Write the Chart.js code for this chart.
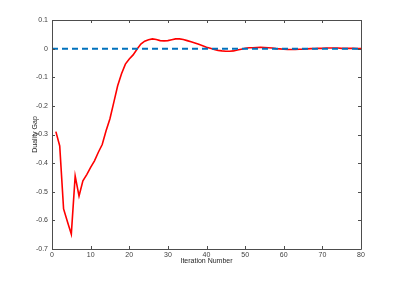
<!DOCTYPE html>
<html>
<head>
<meta charset="utf-8">
<script src="https://cdn.jsdelivr.net/npm/chart.js@4"></script>
<style>
  html, body { margin: 0; padding: 0; background: #fff; }
  canvas { display: block; }
</style>
</head>
<body>
<canvas id="gapChart" width="399" height="281"></canvas>
<script>
const iterations = [];
for (let i = 1; i <= 80; i++) iterations.push(i);

const dualityGap = [
  -0.29, -0.34, -0.56, -0.605, -0.648, -0.445, -0.515, -0.462, -0.44, -0.415,
  -0.392, -0.362, -0.335, -0.287, -0.245, -0.188, -0.13, -0.088, -0.054, -0.036,
  -0.022, -0.002, 0.016, 0.026, 0.031, 0.034, 0.032, 0.028, 0.027, 0.028,
  0.031, 0.034, 0.034, 0.032, 0.028, 0.024, 0.02, 0.015, 0.01, 0.005,
  0.001, -0.003, -0.006, -0.008, -0.009, -0.009, -0.008, -0.005, -0.002, 0.001,
  0.003, 0.003, 0.004, 0.005, 0.004, 0.003, 0.002, 0.0, -0.001, -0.002,
  -0.003, -0.003, -0.003, -0.002, -0.002, -0.001, 0.0, 0.0, 0.001, 0.001,
  0.002, 0.002, 0.002, 0.002, 0.001, 0.001, 0.001, 0.001, 0.0, 0.0
];

const zeroLineX = [0, 80];
const zeroLineY = [0, 0];

const xTicks = [0, 10, 20, 30, 40, 50, 60, 70, 80];
const yTicks = [0.1, 0, -0.1, -0.2, -0.3, -0.4, -0.5, -0.6, -0.7];

const axisColor = "#4d4d4d";

// matlab style box with ticks pointing inward
const boxTicks = {
    id: "boxTicks",
    afterDraw(chart) {
        const ctx = chart.ctx;
        const a = chart.chartArea;
        const xs = chart.scales.x;
        const ys = chart.scales.y;
        const len = 3;
        ctx.save();
        ctx.strokeStyle = axisColor;
        ctx.lineWidth = 1;
        ctx.beginPath();
        ctx.rect(Math.round(a.left) + 0.5, Math.round(a.top) + 0.5,
                 Math.round(a.right - a.left), Math.round(a.bottom - a.top));
        xTicks.forEach(function (t) {
            const px = Math.round(xs.getPixelForValue(t)) + 0.5;
            ctx.moveTo(px, a.bottom);
            ctx.lineTo(px, a.bottom - len);
            ctx.moveTo(px, a.top);
            ctx.lineTo(px, a.top + len);
        });
        yTicks.forEach(function (t) {
            const py = Math.round(ys.getPixelForValue(t)) + 0.5;
            ctx.moveTo(a.left, py);
            ctx.lineTo(a.left + len, py);
            ctx.moveTo(a.right, py);
            ctx.lineTo(a.right - len, py);
        });
        ctx.stroke();
        ctx.restore();
    }
};

const tickFont = { family: "Liberation Sans, Arial, sans-serif", size: 7 };

new Chart(document.getElementById("gapChart"), {
    type: "line",
    data: {
        datasets: [
            {
                data: zeroLineX.map(function (x, i) { return { x: x, y: zeroLineY[i] }; }),
                borderColor: "#0072bd",
                borderWidth: 2,
                borderDash: [6, 4],
                pointRadius: 0,
            },
            {
                data: iterations.map(function (x, i) { return { x: x, y: dualityGap[i] }; }),
                borderColor: "#ff0000",
                borderWidth: 1.6,
                pointRadius: 0,
                tension: 0,
            },
        ],
    },
    options: {
        responsive: false,
        animation: false,
        layout: { padding: { left: 0, top: 20, right: 38, bottom: 0 } },
        plugins: {
            legend: { display: false },
            tooltip: { enabled: false },
        },
        scales: {
            x: {
                type: "linear",
                min: 0,
                max: 80,
                afterBuildTicks: function (scale) {
                    scale.ticks = xTicks.map(function (v) { return { value: v }; });
                },
                afterFit: function (scale) { scale.height = 32; },
                grid: { display: false, drawTicks: false },
                border: { display: false },
                ticks: {
                    font: tickFont,
                    color: "#404040",
                    padding: 2,
                    maxRotation: 0,
                    callback: function (v) { return String(v); },
                },
                title: {
                    display: true,
                    text: "Iteration Number",
                    font: tickFont,
                    color: "#262626",
                    padding: { top: 0, bottom: 16 },
                },
            },
            y: {
                type: "linear",
                min: -0.7,
                max: 0.1,
                afterBuildTicks: function (scale) {
                    scale.ticks = yTicks.map(function (v) { return { value: v }; });
                },
                afterFit: function (scale) { scale.width = 52; },
                grid: { display: false, drawTicks: false },
                border: { display: false },
                ticks: {
                    font: tickFont,
                    color: "#404040",
                    padding: 4,
                    callback: function (v) { return String(Math.round(v * 10) / 10); },
                },
                title: {
                    display: true,
                    text: "Duality Gap",
                    font: tickFont,
                    color: "#262626",
                    padding: { top: 31, bottom: 0 },
                },
            },
        },
    },
    plugins: [boxTicks],
});
</script>
</body>
</html>
